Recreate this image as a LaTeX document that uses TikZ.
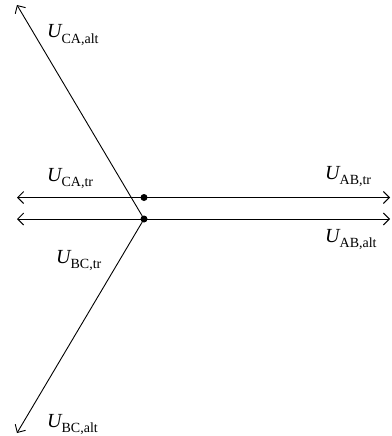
\documentclass[tikz,border=0pt]{standalone}
\usepackage{fontspec}
\setmainfont{Liberation Serif}
\usetikzlibrary{arrows.meta}
\newcommand{\vlab}[1]{{\itshape U}\raisebox{-0.28em}{\fontsize{14}{14}\selectfont #1}}
\begin{document}
\begin{tikzpicture}[x=1pt,y=-1pt,
  vec/.style={line width=0.9pt,-{Straight Barb[length=6pt,width=12pt,line width=0.9pt]}},
  lbl/.style={font=\fontsize{20}{20}\selectfont,inner sep=0pt},
  dotmark/.style={circle,fill=black,inner sep=0pt,minimum size=7pt}]
\useasboundingbox (0,0) rectangle (391,436);
\coordinate (O1) at (144,197.5);
\coordinate (O2) at (144,219);
\coordinate (CAalt) at (17,5);
\coordinate (BCalt) at (17,433);
\coordinate (CAtr) at (17,197.5);
\coordinate (ABtr) at (390,197.5);
\coordinate (BCtr) at (17,219);
\coordinate (ABalt) at (390,219);
\draw[vec] (O1) -- (CAtr);
\draw[vec] (O1) -- (ABtr);
\draw[vec] (O2) -- (BCtr);
\draw[vec] (O2) -- (ABalt);
\draw[vec] (O2) -- (CAalt);
\draw[vec] (O2) -- (BCalt);
\node[dotmark] (d1) at (O1) {};
\node[dotmark] (d2) at (O2) {};
\node[lbl,anchor=base west] (l1) at (47,37.5) {\vlab{CA,alt}};
\node[lbl,anchor=base west] (l2) at (47,181) {\vlab{CA,tr}};
\node[lbl,anchor=base west] (l3) at (325,179) {\vlab{AB,tr}};
\node[lbl,anchor=base west] (l4) at (325,242) {\vlab{AB,alt}};
\node[lbl,anchor=base west] (l5) at (56,263) {\vlab{BC,tr}};
\node[lbl,anchor=base west] (l6) at (47,427) {\vlab{BC,alt}};
\end{tikzpicture}
\end{document}
